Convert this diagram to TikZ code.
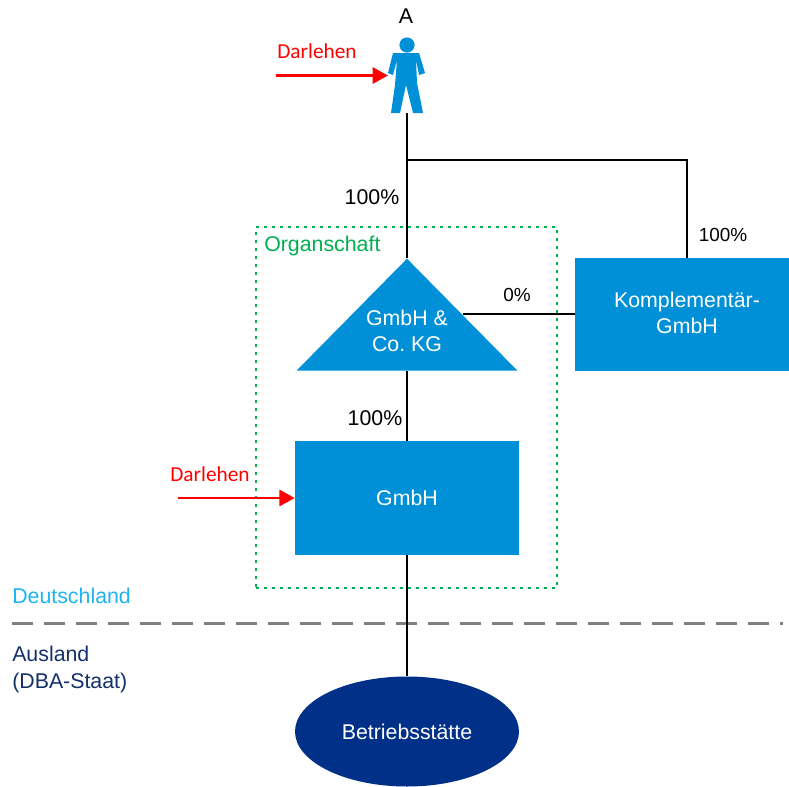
\documentclass[tikz,border=0pt]{standalone}
\usepackage{fontspec}
\setmainfont{Liberation Sans}
\newfontfamily\darlehenfont{Carlito}
\usetikzlibrary{shapes, arrows.meta, positioning}
\definecolor{boxblue}{HTML}{0090D7}
\definecolor{navyblue}{HTML}{003087}
\definecolor{labelnavy}{HTML}{14306B}
\definecolor{landblue}{HTML}{1FB4F0}
\definecolor{organgreen}{HTML}{00B050}
\tikzset{
    entity/.style={fill=boxblue, text=white, inner sep=0pt, align=center, font=\fontsize{16}{20}\selectfont},
    entitytext/.style={text=white, align=center, inner sep=0pt, font=\fontsize{16}{19}\selectfont},
    conn/.style={draw=black, line width=2.2pt},
    loan/.style={draw=red, line width=2.2pt, -{Triangle[length=11.5pt, width=12pt]}},
    loantext/.style={text=red, font=\darlehenfont\fontsize{16}{18}\selectfont, inner sep=0pt},
    share/.style={text=black, font=\fontsize{16}{18}\selectfont, inner sep=0pt},
    smallshare/.style={text=black, font=\fontsize{14.2}{18}\selectfont, inner sep=0pt}
}
\begin{document}
\begin{tikzpicture}[x=0.75pt, y=-0.75pt]
    \useasboundingbox (0,0) rectangle (789,786);

    % Border between the two countries
    \coordinate (borderl) at (12,623);
    \coordinate (borderr) at (783,623);
    \draw[draw=gray, line width=2.25pt, dash pattern=on 15.7pt off 8.3pt] (borderl) -- (borderr);
    \node[text=landblue, anchor=west, inner sep=0pt, font=\fontsize{16}{18}\selectfont] (de) at (12,596) {Deutschland};
    \node[text=labelnavy, anchor=north west, align=left, inner sep=0pt, font=\fontsize{16}{20}\selectfont] (ausland) at (12,646) {Ausland\\(DBA-Staat)};

    % Organschaft frame
    \node[draw=organgreen, line width=1.9pt, dash pattern=on 1.9pt off 4.1pt, minimum width=225.75pt, minimum height=270.75pt, inner sep=0pt] (frame) at (406.5,407.5) {};
    \node[text=organgreen, anchor=west, inner sep=0pt, font=\fontsize{16}{18}\selectfont] (organ) at (264,246) {Organschaft};

    % Companies
    \node[entity, isosceles triangle, isosceles triangle stretches, shape border rotate=90, minimum width=165.75pt, minimum height=84pt, anchor=apex] (kg) at (407,258) {};
    \node[entitytext] (kgtext) at (407,331) {GmbH \&\\Co.\ KG};
    \node[entity, minimum width=160.5pt, minimum height=84.75pt] (kompl) at (682,314.5) {};
    \node[entitytext] (kompltext) at (687,313) {Komplementär-\\GmbH};
    \node[entity, minimum width=168pt, minimum height=85.5pt] (gmbh) at (407,498) {GmbH};
    \node[entity, ellipse, fill=navyblue, minimum width=168pt, minimum height=82.5pt] (bs) at (407,731.5) {Betriebsstätte};

    % Person A
    \fill[boxblue] (407,45) circle (5.7pt);
    \fill[boxblue] (393,53) -- (419,53) -- (425,73) -- (419,75) -- (416,60) -- (417,83) -- (423,113)
        -- (413,113) -- (406,85) -- (400,113) -- (391,113) -- (395,85) -- (397,60) -- (393,75) -- (388,73) -- cycle;
    \node[share] (A) at (406,16) {A};
    \coordinate (feet) at (407,113);
    \coordinate (branch) at (407,160);
    \coordinate (hand) at (388,75.5);
    \coordinate (handstart) at (276,75.5);

    % Connectors
    \coordinate (komplin) at (687,258);
    \coordinate (kgside) at (463,314);
    \draw[conn] (feet) -- (kg.apex);
    \draw[conn] (branch) -| (komplin);
    \draw[conn] (kgside) -- (kompl.west |- kgside);
    \draw[conn] (kg.south) -- (gmbh.north);
    \draw[conn] (gmbh.south) -- (bs.north);

    % Loans
    \coordinate (gmbhstart) at (178,498);
    \draw[loan] (handstart) -- (hand);
    \draw[loan] (gmbhstart) -- (gmbh.west);
    \node[loantext] (loanA) at (317,51) {Darlehen};
    \node[loantext] (loanB) at (210,474) {Darlehen};

    % Shares
    \node[share] (s1) at (372,197) {100\%};
    \node[smallshare] (s2) at (723,235) {100\%};
    \node[smallshare] (s3) at (517,295) {0\%};
    \node[share] (s4) at (375,418) {100\%};
\end{tikzpicture}
\end{document}
